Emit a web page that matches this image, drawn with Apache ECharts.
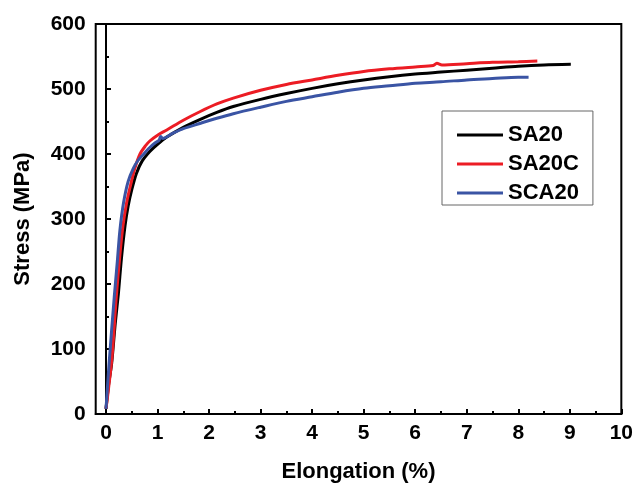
<!DOCTYPE html>
<html>
<head>
<meta charset="utf-8">
<script src="https://cdn.jsdelivr.net/npm/echarts@6/dist/echarts.min.js"></script>
<style>
html,body{margin:0;padding:0;background:#fff;}
#chart{width:636px;height:488px;}
</style>
</head>
<body>
<div id="chart"></div>
<script>
const seriesNames = ['SA20', 'SA20C', 'SCA20'];
const seriesColors = ['#000000', '#ec1c24', '#3a54a4'];

const sa20 = [[0.0,8],[0.05,45],[0.11,78],[0.18,140],[0.24,185],[0.3,240],[0.37,290],[0.43,320],[0.5,345],[0.59,370],[0.7,389],[0.85,404],[1.0,415],[1.18,426],[1.5,441],[1.82,453],[2.15,464],[2.47,473],[3,484],[3.5,493],[4,501],[4.5,508],[5,514],[5.5,519],[6,523],[6.5,526],[7,529],[7.5,532],[8,535],[8.5,537],[9.02,538]];
const sa20c = [[0.0,8],[0.05,40],[0.12,90],[0.2,180],[0.27,245],[0.33,290],[0.4,325],[0.47,350],[0.56,378],[0.66,400],[0.76,412],[0.85,420],[1.0,429],[1.18,437],[1.5,452],[1.82,465],[2.15,477],[2.47,486],[3,498],[3.5,507],[4,514],[4.5,521],[5,527],[5.5,531],[6,534],[6.35,536],[6.42,539.5],[6.52,537],[7,539],[7.5,541],[8,542],[8.37,543]];
const sca20 = [[0.0,8],[0.06,78],[0.16,180],[0.22,235],[0.27,283],[0.34,325],[0.43,358],[0.53,378],[0.62,390],[0.72,399],[0.85,410],[0.95,417],[1.03,421],[1.06,427],[1.1,424],[1.3,432],[1.5,439],[1.82,447],[2.15,455],[2.47,462],[3,472],[3.5,481],[4,488],[4.5,495],[5,501],[5.5,505],[6,509],[6.5,511],[7,514],[7.5,516],[8,518],[8.2,518]];

const xMajorTicks = [0,1,2,3,4,5,6,7,8,9,10];
const xMinorTicks = [0.5,1.5,2.5,3.5,4.5,5.5,6.5,7.5,8.5,9.5];
const seriesData = [sa20, sa20c, sca20];

const FONT = '"Liberation Sans", Arial, sans-serif';
const chart = echarts.init(document.getElementById('chart'), null, {renderer: 'canvas'});

const option = {
  backgroundColor: '#ffffff',
  animation: false,
  grid: {
    left: 95.7, right: 14.3, top: 24, bottom: 74,
    show: true, borderColor: '#000', borderWidth: 2, backgroundColor: 'transparent'
  },
  legend: {
    left: 442, top: 111,
    orient: 'vertical',
    data: seriesNames.map(n => ({name: n, icon: 'rect'})),
    itemWidth: 46, itemHeight: 3,
    itemGap: 7,
    itemTextGap: 7,
    padding: [13, 14, 1, 15],
    borderColor: '#666', borderWidth: 1,
    textStyle: {fontFamily: FONT, fontWeight: 'bold', fontSize: 22, color: '#000', lineHeight: 22}
  },
  xAxis: [{
    type: 'value', min: -0.2, max: 10,
    name: 'Elongation (%)', nameLocation: 'middle', nameGap: 47,
    nameTextStyle: {fontFamily: FONT, fontWeight: 'bold', fontSize: 22, color: '#000'},
    axisLine: {show: true, onZero: false, lineStyle: {color: '#000', width: 2}},
    axisTick: {show: true, inside: true, length: 5, lineStyle: {color: '#000', width: 2}, customValues: xMajorTicks},
    axisLabel: {fontFamily: FONT, fontWeight: 'bold', fontSize: 21, color: '#000', margin: 9, customValues: xMajorTicks},
    splitLine: {show: false}
  }, {
    type: 'value', min: -0.2, max: 10, position: 'bottom',
    axisLine: {show: false},
    axisTick: {show: true, inside: true, length: 3, lineStyle: {color: '#000', width: 2}, customValues: xMinorTicks},
    axisLabel: {show: false, customValues: xMinorTicks},
    splitLine: {show: false}
  }],
  yAxis: {
    type: 'value', min: 0, max: 600, interval: 100,
    name: 'Stress (MPa)', nameLocation: 'middle', nameGap: 62,
    nameTextStyle: {fontFamily: FONT, fontWeight: 'bold', fontSize: 22, color: '#000'},
    axisLine: {show: true, lineStyle: {color: '#000', width: 2}},
    axisTick: {show: true, inside: true, length: 5, lineStyle: {color: '#000', width: 2}},
    minorTick: {show: true, splitNumber: 2, length: 3, lineStyle: {color: '#000', width: 2}},
    axisLabel: {fontFamily: FONT, fontWeight: 'bold', fontSize: 21, color: '#000', margin: 10},
    splitLine: {show: false}
  },
  series: seriesNames.map((n, i) => ({
    name: n, type: 'line', data: seriesData[i],
    showSymbol: false, smooth: 0.3,
    lineStyle: {color: seriesColors[i], width: 3},
    itemStyle: {color: seriesColors[i]},
    z: i === 2 ? 4 : (i === 1 ? 3 : 2)
  }))
};
chart.setOption(option);
</script>
</body>
</html>
